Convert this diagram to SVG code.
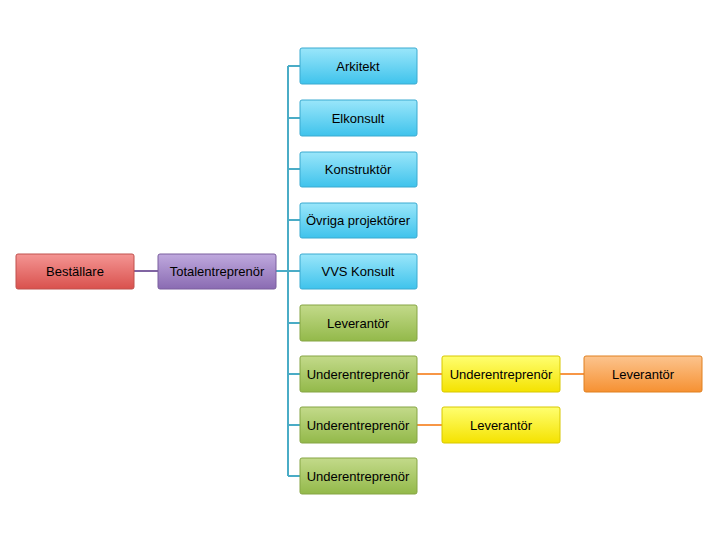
<svg xmlns="http://www.w3.org/2000/svg" width="720" height="540" viewBox="0 0 720 540">
<defs>
<linearGradient id="gr" x1="0" y1="0" x2="0" y2="1"><stop offset="0" stop-color="#f49593"/><stop offset="1" stop-color="#d9514d"/></linearGradient>
<linearGradient id="gp" x1="0" y1="0" x2="0" y2="1"><stop offset="0" stop-color="#bfa9de"/><stop offset="1" stop-color="#8a6bb2"/></linearGradient>
<linearGradient id="gc" x1="0" y1="0" x2="0" y2="1"><stop offset="0" stop-color="#9ae6fa"/><stop offset="1" stop-color="#3fc3ec"/></linearGradient>
<linearGradient id="gg" x1="0" y1="0" x2="0" y2="1"><stop offset="0" stop-color="#c3da8a"/><stop offset="1" stop-color="#93b94a"/></linearGradient>
<linearGradient id="gy" x1="0" y1="0" x2="0" y2="1"><stop offset="0" stop-color="#ffff70"/><stop offset="1" stop-color="#f4e200"/></linearGradient>
<linearGradient id="go" x1="0" y1="0" x2="0" y2="1"><stop offset="0" stop-color="#fcc48e"/><stop offset="1" stop-color="#f69132"/></linearGradient>
</defs>
<style>
rect{stroke-width:1;rx:2}
.r{fill:url(#gr);stroke:#c0504d}.p{fill:url(#gp);stroke:#7a5e9e}.c{fill:url(#gc);stroke:#3aaad0}
.g{fill:url(#gg);stroke:#86a544}.y{fill:url(#gy);stroke:#d8c800}.o{fill:url(#go);stroke:#e08020}
text{font-family:"Liberation Sans",Arial,sans-serif;font-size:13px;text-anchor:middle;fill:#000}
.lt{stroke:#4aacc6;stroke-width:2;fill:none}.lp{stroke:#8064a2;stroke-width:2}.lo{stroke:#f79646;stroke-width:2}
</style>
<g id="connectors">
<line class="lp" x1="134" y1="271" x2="158" y2="271"/>
<path class="lt" d="M276 271H288M288 66V476M288 66H300M288 118H300M288 169H300M288 220H300M288 271H300M288 323H300M288 374H300M288 425H300M288 476H300"/>
<line class="lo" x1="417" y1="374" x2="442" y2="374"/>
<line class="lo" x1="560" y1="374" x2="584" y2="374"/>
<line class="lo" x1="417" y1="425" x2="442" y2="425"/>
</g>
<g id="n1"><rect class="r" x="16" y="254" width="118" height="35"/><text x="75" y="276">Beställare</text></g>
<g id="n2"><rect class="p" x="158" y="254" width="118" height="35"/><text x="217" y="276">Totalentreprenör</text></g>
<g id="n3"><rect class="c" x="300" y="48" width="117" height="36"/><text x="358" y="71">Arkitekt</text></g>
<g id="n4"><rect class="c" x="300" y="100" width="117" height="36"/><text x="358" y="123">Elkonsult</text></g>
<g id="n5"><rect class="c" x="300" y="152" width="117" height="35"/><text x="358" y="174">Konstruktör</text></g>
<g id="n6"><rect class="c" x="300" y="203" width="117" height="35"/><text x="358" y="225">Övriga projektörer</text></g>
<g id="n7"><rect class="c" x="300" y="254" width="117" height="35"/><text x="358" y="276">VVS Konsult</text></g>
<g id="n8"><rect class="g" x="300" y="305" width="117" height="36"/><text x="358" y="328">Leverantör</text></g>
<g id="n9"><rect class="g" x="300" y="356" width="117" height="36"/><text x="358" y="379">Underentreprenör</text></g>
<g id="n10"><rect class="g" x="300" y="407" width="117" height="36"/><text x="358" y="430">Underentreprenör</text></g>
<g id="n11"><rect class="g" x="300" y="458" width="117" height="36"/><text x="358" y="481">Underentreprenör</text></g>
<g id="n12"><rect class="y" x="442" y="356" width="118" height="36"/><text x="501" y="379">Underentreprenör</text></g>
<g id="n13"><rect class="o" x="584" y="356" width="118" height="36"/><text x="643" y="379">Leverantör</text></g>
<g id="n14"><rect class="y" x="442" y="407" width="118" height="36"/><text x="501" y="430">Leverantör</text></g>
</svg>
